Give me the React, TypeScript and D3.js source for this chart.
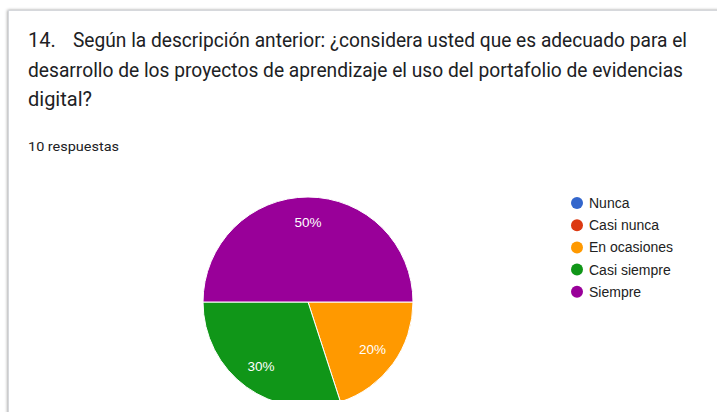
import * as d3 from "d3";
import { useEffect, useRef } from "react";

const categories = ["Nunca", "Casi nunca", "En ocasiones", "Casi siempre", "Siempre"];
const counts = [0, 0, 2, 3, 5];
const colors = ["#3366cc", "#dc3912", "#ff9900", "#109618", "#990099"];
const titleLines = [
  "Según la descripción anterior: ¿considera usted que es adecuado para el",
  "desarrollo de los proyectos de aprendizaje el uso del portafolio de evidencias",
  "digital?",
];
const responses = "10 respuestas";

const W = 717;
const H = 412;

const App = () => {
  const ref = useRef<SVGSVGElement | null>(null);

  useEffect(() => {
    const svg = d3.select(ref.current);
    svg.selectAll("*").remove();

    const defs = svg.append("defs");
    const shadow = defs.append("filter").attr("id", "sh").attr("x", "-5%").attr("y", "-5%").attr("width", "110%").attr("height", "110%");
    shadow.append("feDropShadow").attr("dx", -0.5).attr("dy", 0).attr("stdDeviation", 1.6).attr("flood-color", "#000").attr("flood-opacity", 0.4);
    defs.append("clipPath").attr("id", "clip").append("rect").attr("x", 0).attr("y", 0).attr("width", W).attr("height", 400);

    // card
    svg.append("rect").attr("x", 0).attr("y", 0).attr("width", W).attr("height", H).attr("fill", "#fff");
    svg.append("rect")
      .attr("x", 8.5).attr("y", 10.5).attr("width", W + 20).attr("height", H + 20)
      .attr("fill", "#fff").attr("stroke", "#d6d8dc").attr("filter", "url(#sh)");

    // title
    const t = svg.append("g").attr("font-family", "Roboto, sans-serif").attr("fill", "#202124");
    t.append("text").attr("x", 28).attr("y", 47).attr("font-size", 20).text("14.");
    const widths = [687 - 73, 683 - 28, null];
    const xs = [73, 28, 28];
    titleLines.forEach((line, i) => {
      const el = t.append("text").attr("x", xs[i]).attr("y", 47 + i * 29.5).attr("font-size", 20).text(line);
      if (widths[i]) el.attr("textLength", widths[i]).attr("lengthAdjust", "spacingAndGlyphs");
    });
    t.append("text").attr("x", 28).attr("y", 151).attr("font-size", 13)
      .attr("textLength", 119 - 28).attr("lengthAdjust", "spacingAndGlyphs").text(responses);

    // pie
    const cx = 308, cy = 302, r = 105;
    const data = categories.map((c, i) => ({ c, v: counts[i], col: colors[i] }));
    const pie = d3.pie<{ c: string; v: number; col: string }>()
      .value((d) => d.v).sort(null)
      .startAngle(Math.PI / 2).endAngle(Math.PI / 2 + 2 * Math.PI);
    const arcs = pie(data.filter((d) => d.v > 0));
    const arc = d3.arc<d3.PieArcDatum<{ c: string; v: number; col: string }>>().innerRadius(0).outerRadius(r);
    const labelArc = d3.arc<d3.PieArcDatum<{ c: string; v: number; col: string }>>().innerRadius(r * 0.76).outerRadius(r * 0.76);
    const total = d3.sum(counts);

    const pg = svg.append("g").attr("clip-path", "url(#clip)").append("g").attr("transform", `translate(${cx},${cy})`);
    pg.selectAll("path").data(arcs).enter().append("path")
      .attr("d", arc).attr("fill", (d) => d.data.col).attr("stroke", "#fff").attr("stroke-width", 1);
    pg.selectAll("text").data(arcs).enter().append("text")
      .attr("transform", (d) => {
        const [x, y] = labelArc.centroid(d);
        return `translate(${x},${y})`;
      })
      .attr("text-anchor", "middle").attr("dy", "0.35em")
      .attr("font-family", "Arial, Liberation Sans, sans-serif").attr("font-size", 13.5).attr("fill", "#fff")
      .text((d) => `${Math.round((d.data.v / total) * 100)}%`);

    // legend
    const lg = svg.append("g").attr("font-family", "Arial, Liberation Sans, sans-serif").attr("font-size", 14).attr("fill", "#222");
    categories.forEach((c, i) => {
      const y = 203 + i * 22.2;
      lg.append("circle").attr("cx", 577).attr("cy", y).attr("r", 6).attr("fill", colors[i]);
      lg.append("text").attr("x", 589).attr("y", y).attr("dy", "0.36em").text(c);
    });
  }, []);

  return <svg ref={ref} width={W} height={H} style={{ position: "absolute", left: 0, top: 0 }} />;
};

export default App;
